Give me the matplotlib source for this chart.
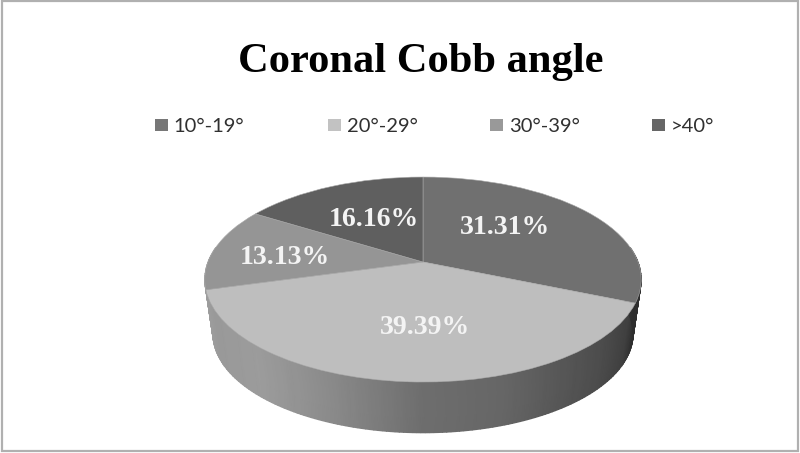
import numpy as np
import matplotlib
matplotlib.use("Agg")
import matplotlib.pyplot as plt
from matplotlib.patches import Rectangle
from matplotlib.transforms import Transform

# ── DATA ──────────────────────────────────────────────────────────────────────
TITLE      = "Coronal Cobb angle"
categories = ["10°-19°", "20°-29°", "30°-39°", ">40°"]
percent    = [31.31, 39.39, 13.13, 16.16]
greys      = ["#707070", "#bebebe", "#959595", "#5f5f5f"]
swatch_gr  = ["#777777", "#c2c2c2", "#999999", "#666666"]

# ── GEOMETRY (pixels of the 800x453 picture) ──────────────────────────────────
CX, CY = 423, 262      # apex of the slices on the top face
BX, AY = 215, 99.5     # half sizes of the disc
K      = 0.171         # perspective strength
BOT_Y, BOT_BX, BOT_AY = 317, 207, 96   # bottom rim of the disc


class TiltedDisc(Transform):
    """Unit pie circle -> top face of the disc, seen in perspective."""
    input_dims = 2
    output_dims = 2
    is_separable = False

    def transform_non_affine(self, xy):
        xy = np.asarray(xy)
        w = 1 + K * xy[:, 1]
        return np.column_stack([CX + BX * xy[:, 0] / w, CY - AY * xy[:, 1] / w])


fig = plt.figure(figsize=(8, 4.53), dpi=100, facecolor="white")
ax = fig.add_axes([0, 0, 1, 1])

# ── top face ──────────────────────────────────────────────────────────────────
wedges, _ = ax.pie(percent, colors=greys, startangle=90, counterclock=False, radius=1)
disc = TiltedDisc() + ax.transData
for w in wedges:
    w.set_transform(disc)
    w.set_zorder(3)
    w.set_edgecolor("#a8a8a8")
    w.set_linewidth(0.4)

# ── side wall, shaded from left to right ──────────────────────────────────────
t = np.linspace(np.pi - 0.15, 2 * np.pi + 0.15, 200)
u, v = np.cos(t), np.sin(t)
ww = 1 + K * v
top_x, top_y = CX + BX * u / ww, CY - AY * v / ww
bot_x, bot_y = CX + BOT_BX * u / ww, BOT_Y - BOT_AY * v / ww
stop_x = [204, 215, 257, 323, 373, 423, 453, 503, 553, 603, 630, 640]
stop_g = [0.62, 0.60, 0.61, 0.55, 0.49, 0.43, 0.42, 0.40, 0.35, 0.30, 0.25, 0.18]
shade = np.interp(top_x, stop_x, stop_g)
ax.pcolormesh(np.vstack([top_x, bot_x]), np.vstack([top_y, bot_y]),
              np.vstack([shade, shade]), shading="gouraud", cmap="gray",
              vmin=0, vmax=1, zorder=1)

ax.set_aspect("auto")
ax.set_xlim(0, 800)
ax.set_ylim(453, 0)
ax.axis("off")

# ── slice labels ──────────────────────────────────────────────────────────────
label_xy = [(505, 228), (425, 328), (285, 257), (374, 220)]
for val, (x, y) in zip(percent, label_xy):
    ax.text(x, y, f"{val:.2f}%", ha="center", va="center", color="#f4f4f4",
            family="Liberation Serif", fontweight="bold", fontsize=20, zorder=5)

# ── title and legend ──────────────────────────────────────────────────────────
ax.text(421, 72, TITLE, ha="center", va="baseline", color="black",
        family="Liberation Serif", fontweight="bold", fontsize=30.6)

swatch_x = [155, 328, 490, 652]
text_x   = [173, 347, 509, 671]
for name, col, sx, tx in zip(categories, swatch_gr, swatch_x, text_x):
    ax.add_patch(Rectangle((sx, 119), 13, 12, facecolor=col, edgecolor="none"))
    ax.text(tx, 132, name, ha="left", va="baseline", color="#303030",
            family="Lato", fontsize=14.5)

# ── outer frame ───────────────────────────────────────────────────────────────
ax.add_patch(Rectangle((1.5, 0.5), 796.5, 450.5, facecolor="none", edgecolor="#b0b0b0",
                       linewidth=1.6, zorder=6))

plt.savefig("out.png", dpi=100)
